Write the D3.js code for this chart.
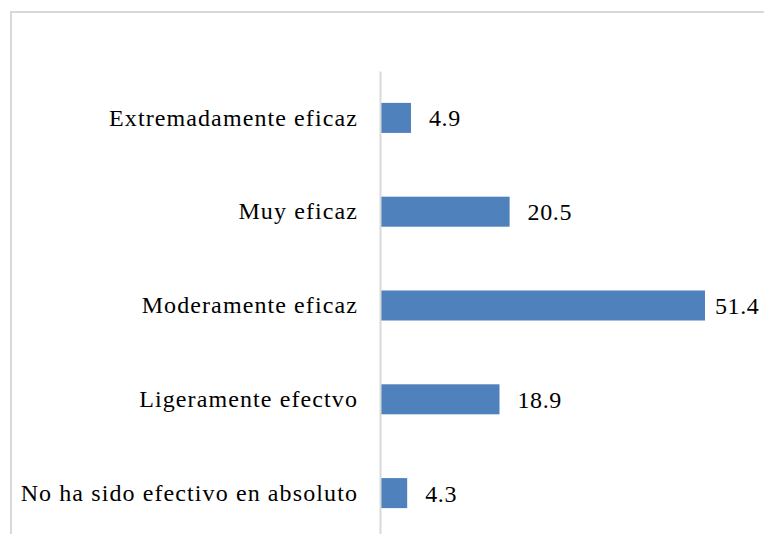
<!DOCTYPE html>
<html>
<head>
<meta charset="utf-8">
<script src="https://cdn.jsdelivr.net/npm/d3@7"></script>
<style>
  body { margin: 0; background: #fff; }
  svg { display: block; }
  svg text { font-family: 'Liberation Serif', 'Times New Roman', serif; }
</style>
</head>
<body>
<svg id="svg"></svg>
<script>
var categories = ["Extremadamente eficaz", "Muy eficaz", "Moderamente eficaz", "Ligeramente efectvo", "No ha sido efectivo en absoluto"];
var values = [4.9, 20.5, 51.4, 18.9, 4.3];

var width = 764, height = 534;
var margin = {top: 71, left: 380, right: 59, bottom: -6};

var svg = d3.select("#svg").attr("width", width).attr("height", height);

// marco del gráfico
svg.append("rect")
    .attr("x", 11).attr("y", 12)
    .attr("width", 800).attr("height", 600)
    .attr("fill", "none")
    .attr("stroke", "#d9d9d9")
    .attr("stroke-width", 2);

var xScale = d3.scaleLinear().domain([0, 51.4]).range([margin.left, 705]);
var yScale = d3.scaleBand().domain(categories)
    .range([margin.top, height - margin.bottom])
    .paddingInner(0.68).paddingOuter(0.34);

svg.append("g").selectAll("rect")
    .data(values)
    .join("rect")
    .attr("x", xScale(0))
    .attr("y", (d, i) => yScale(categories[i]))
    .attr("width", d => xScale(d) - xScale(0))
    .attr("height", yScale.bandwidth())
    .attr("fill", "#4f81bd");

// eje vertical
var yAxis = svg.append("g")
    .attr("transform", `translate(${xScale(0)}, 0)`)
    .call(d3.axisLeft(yScale).tickSize(0).tickPadding(22));
yAxis.attr("font-family", null);
yAxis.select(".domain").attr("stroke", "#d9d9d9").attr("stroke-width", 2);
yAxis.selectAll("text")
    .style("font-size", "24px")
    .style("letter-spacing", "1.1px")
    .attr("fill", "#000");

// etiquetas de valor
svg.append("g").selectAll("text")
    .data(values)
    .join("text")
    .attr("x", d => Math.min(xScale(d) + 18, 715))
    .attr("y", (d, i) => yScale(categories[i]) + yScale.bandwidth() / 2)
    .attr("dy", "0.35em")
    .style("font-size", "24px")
    .style("letter-spacing", "0.6px")
    .attr("fill", "#000")
    .text(d => d.toFixed(1));
</script>
</body>
</html>
